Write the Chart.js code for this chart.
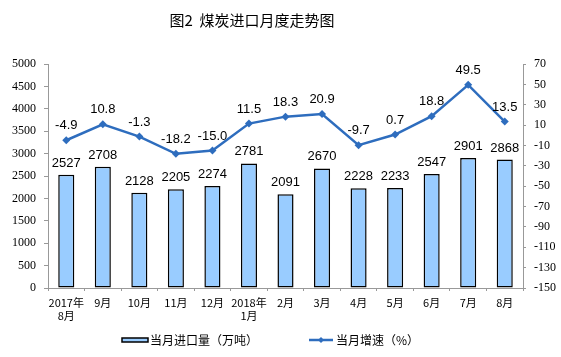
<!DOCTYPE html>
<html><head><meta charset="utf-8">
<script src="https://cdn.jsdelivr.net/npm/chart.js@4/dist/chart.umd.min.js"></script>
<style>html,body{margin:0;padding:0;background:#fff}#wrap{width:561px;height:357px}</style>
</head><body><div id="wrap"><canvas id="c" width="561" height="357"></canvas></div>
<script>
const categories = [["2017年","8月"],"9月","10月","11月","12月",["2018年","1月"],"2月","3月","4月","5月","6月","7月","8月"];
const importVolume = [2527,2708,2128,2205,2274,2781,2091,2670,2228,2233,2547,2901,2868];
const growthRate = [-4.9,10.8,-1.3,-18.2,-15.0,11.5,18.3,20.9,-9.7,0.7,18.8,49.5,13.5];
const titleText = "图2  煤炭进口月度走势图";
const barLabel = "当月进口量（万吨）";
const lineLabel = "当月增速（%）";

const BAR_COLOR = "#99CCFF";
const LINE_COLOR = "#2E6DBE";

const labelPlugin = {
  id: "labels",
  afterDatasetsDraw(chart) {
    const ctx = chart.ctx;
    ctx.save();
    ctx.font = "13px 'Liberation Sans', Arial, sans-serif";
    ctx.fillStyle = "#000";
    ctx.textAlign = "center";
    ctx.textBaseline = "bottom";
    chart.getDatasetMeta(0).data.forEach((el, i) => {
      ctx.fillText(String(importVolume[i]), el.x, el.y - 5);
    });
    chart.getDatasetMeta(1).data.forEach((el, i) => {
      ctx.fillText(growthRate[i].toFixed(1), el.x, el.y - 8);
    });
    // title
    ctx.font = "15px 'Noto Sans CJK SC', sans-serif";
    ctx.textAlign = "center";
    ctx.textBaseline = "middle";
    ctx.fillText(titleText, 252, 20);
    // legend
    ctx.font = "12px 'Noto Sans CJK SC', sans-serif";
    ctx.textAlign = "left";
    ctx.fillStyle = BAR_COLOR;
    ctx.fillRect(122, 338, 26, 4);
    ctx.strokeStyle = "#000";
    ctx.lineWidth = 1.5;
    ctx.strokeRect(122, 338, 26, 4);
    ctx.fillStyle = "#000";
    ctx.fillText(barLabel, 150, 340);
    ctx.strokeStyle = LINE_COLOR;
    ctx.lineWidth = 2.5;
    ctx.beginPath(); ctx.moveTo(309, 340); ctx.lineTo(333, 340); ctx.stroke();
    ctx.fillStyle = LINE_COLOR;
    ctx.beginPath(); ctx.moveTo(321, 337); ctx.lineTo(324, 340); ctx.lineTo(321, 343); ctx.lineTo(318, 340); ctx.closePath(); ctx.fill();
    ctx.fillStyle = "#000";
    ctx.fillText(lineLabel, 336, 340);
    ctx.restore();
  }
};

new Chart(document.getElementById("c"), {
  data: {
    labels: categories,
    datasets: [
      {
        type: "bar", label: barLabel, data: importVolume, yAxisID: "y",
        backgroundColor: BAR_COLOR, borderColor: "#000", borderWidth: 1.5, borderSkipped: false,
        categoryPercentage: 1, barPercentage: 0.44, order: 2
      },
      {
        type: "line", label: lineLabel, data: growthRate, yAxisID: "y1",
        borderColor: LINE_COLOR, backgroundColor: LINE_COLOR, borderWidth: 2.5,
        pointStyle: "rectRot", pointRadius: 4, pointBorderWidth: 0, tension: 0, order: 1
      }
    ]
  },
  options: {
    responsive: false, animation: false,
    layout: { padding: { top: 64, left: 0, right: 0, bottom: 0 } },
    plugins: { legend: { display: false }, title: { display: false }, tooltip: { enabled: false } },
    scales: {
      x: {
        grid: { display: true, drawOnChartArea: false, drawTicks: true, tickLength: 3, offset: true, color: "#999" },
        border: { color: "#999", width: 1 },
        ticks: { color: "#000", font: { family: "'Noto Sans CJK SC', sans-serif", size: 11 }, padding: 5, maxRotation: 0, autoSkip: false },
        afterFit(s) { s.height = 69; }
      },
      y: {
        position: "left", min: 0, max: 5000,
        ticks: { stepSize: 500, color: "#000", font: { family: "'Liberation Serif', serif", size: 12 }, padding: 8, callback: v => String(v) },
        grid: { display: true, drawOnChartArea: false, drawTicks: true, tickLength: 4, color: "#999" },
        border: { color: "#999", width: 1 },
        afterFit(s) { s.width = 48; }
      },
      y1: {
        position: "right", min: -150, max: 70,
        ticks: { stepSize: 20, color: "#000", font: { family: "'Liberation Serif', serif", size: 12 }, padding: 8, callback: v => String(v) },
        grid: { display: true, drawOnChartArea: false, drawTicks: true, tickLength: 3, color: "#999" },
        border: { color: "#999", width: 1 },
        afterFit(s) { s.width = 38; }
      }
    }
  },
  plugins: [labelPlugin]
});
</script>
</body></html>
